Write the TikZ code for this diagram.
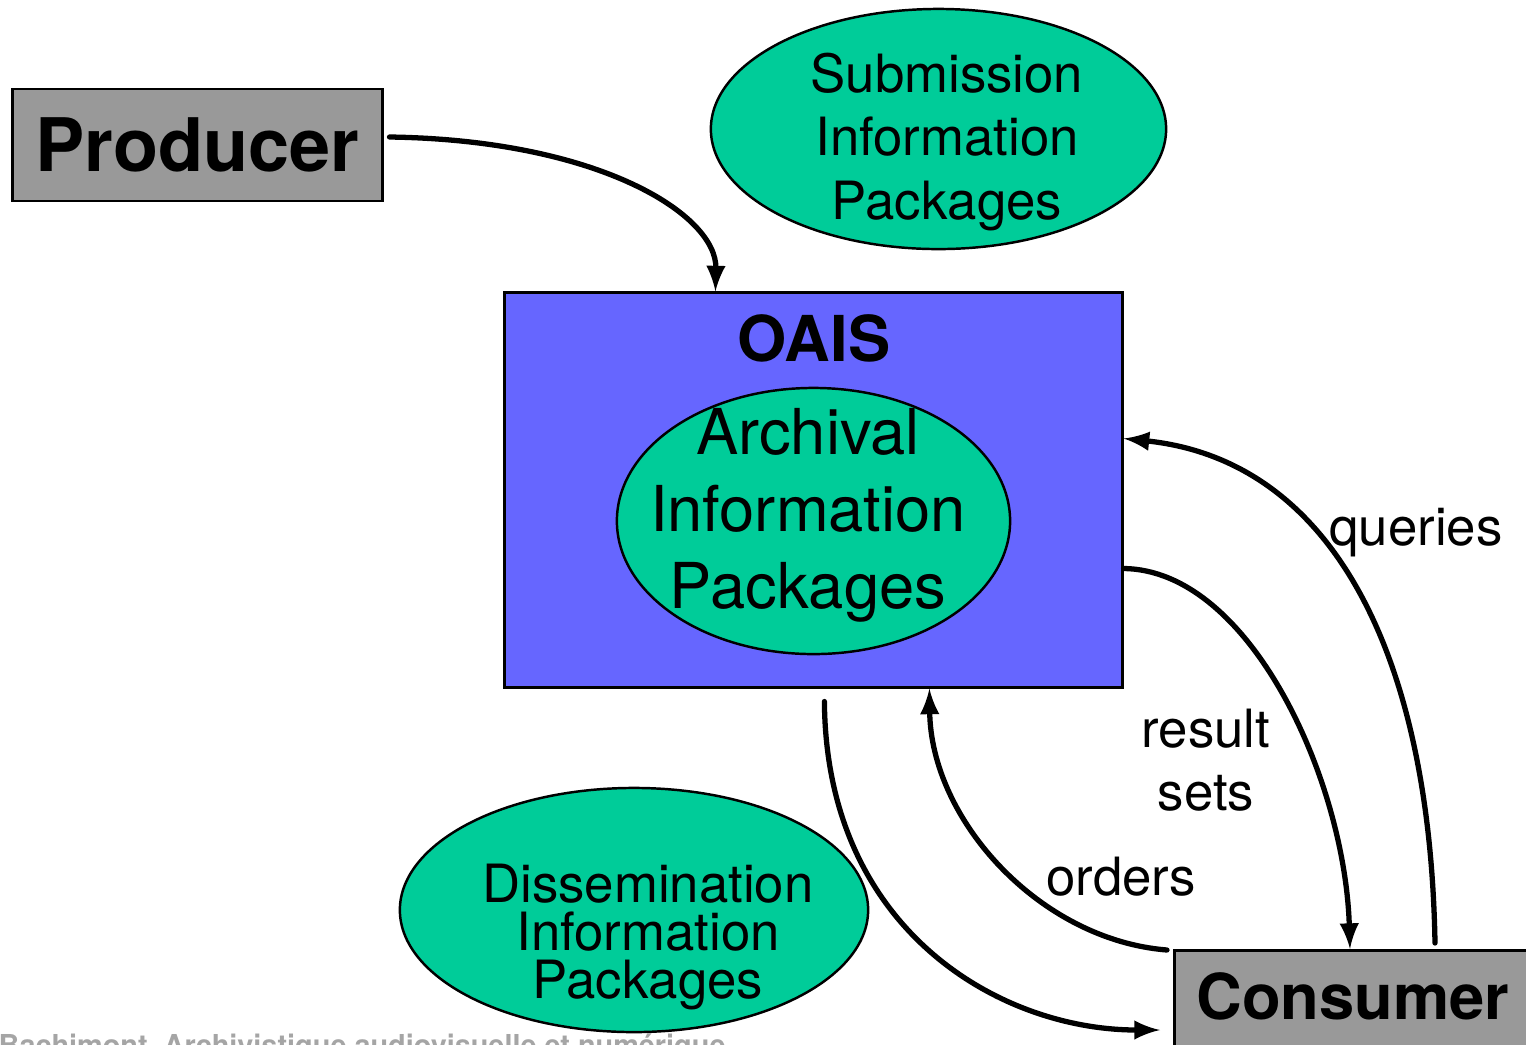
\documentclass[tikz,border=0pt]{standalone}
\usepackage{fontspec}
\setmainfont{TeX Gyre Heros}
\usetikzlibrary{shapes,arrows}
\definecolor{boxgray}{RGB}{153,153,153}
\definecolor{pkggreen}{RGB}{0,204,153}
\definecolor{oaisblue}{RGB}{102,102,255}
\definecolor{footgray}{RGB}{165,165,165}

\begin{document}
\begin{tikzpicture}[x=0.01cm,y=-0.01cm]
\tikzstyle{actor}=[rectangle, draw=black, line width=0.8pt, fill=boxgray, inner sep=0pt]
\tikzstyle{package}=[ellipse, draw=black, line width=0.7pt, fill=pkggreen, inner sep=0pt]
\tikzstyle{system}=[rectangle, draw=black, line width=0.8pt, fill=oaisblue, inner sep=0pt]
\tikzstyle{connect}=[-latex, line width=1.5pt, line cap=round]
\tikzstyle{flow}=[font=\fontsize{15}{18}\selectfont, align=center, inner sep=0pt]
\useasboundingbox (0,0) rectangle (1526,1044);
	\node[actor, minimum width=3.69cm, minimum height=1.12cm, font=\fontsize{21}{25}\selectfont\bfseries] (producer) at (197.5,145) {Producer};
	\node[package, minimum width=4.55cm, minimum height=2.4cm] (sip) at (938.5,129) {};
	\node[flow] (siptext) at (947,142) {Submission\\Information\\Packages};
	\node[system, minimum width=6.17cm, minimum height=3.94cm] (oais) at (813.5,490) {};
	\node[font=\fontsize{18}{21}\selectfont\bfseries, inner sep=0pt] (oaislabel) at (814,338) {OAIS};
	\node[package, minimum width=3.93cm, minimum height=2.66cm] (aip) at (813.5,521) {};
	\node[flow, font=\fontsize{18}{21.9}\selectfont] (aiptext) at (808,515) {Archival\\Information\\Packages};
	\node[package, minimum width=4.68cm, minimum height=2.44cm] (dip) at (634,910) {};
	\node[flow, font=\fontsize{15}{13.7}\selectfont] (diptext) at (648,937) {Dissemination\\Information\\Packages};
	\node[actor, anchor=north west, inner xsep=0.22cm, inner ysep=0.22cm, text depth=1.2cm, font=\fontsize{18}{21}\selectfont\bfseries] (consumer) at (1173,949) {Consumer};
	\node[anchor=base west, inner sep=0pt, text=footgray, font=\fontsize{8.2}{10}\selectfont\bfseries] (credit) at (-2,1055) {Bachimont, Archivistique audiovisuelle et numérique};

	% flows between producer, archive and consumer
	\draw[connect] ([shift={(6,-8)}]producer.east) .. controls (600,140) and (717,215) .. ([shift={(212,0)}]oais.north west);
	\draw[connect] ([shift={(262,-6)}]consumer.north west) .. controls (1430,650) and (1330,460) .. ([shift={(0,147)}]oais.north east);
	\draw[connect] ([shift={(0,277)}]oais.north east) .. controls (1250,570) and (1345,780) .. ([shift={(177,0)}]consumer.north west);
	\draw[connect] ([shift={(-6,1)}]consumer.north west) .. controls (1040,940) and (931,820) .. ([shift={(426,0)}]oais.south west);
	\draw[connect] ([shift={(321,13)}]oais.south west) .. controls (826,930) and (1000,1030) .. ([shift={(-13,81)}]consumer.north west);

	\node[flow, anchor=base] (queries) at (1416,545) {queries};
	\node[flow] (results) at (1206,760) {result\\sets};
	\node[flow] (orders) at (1121,877) {orders};
\end{tikzpicture}
\end{document}
